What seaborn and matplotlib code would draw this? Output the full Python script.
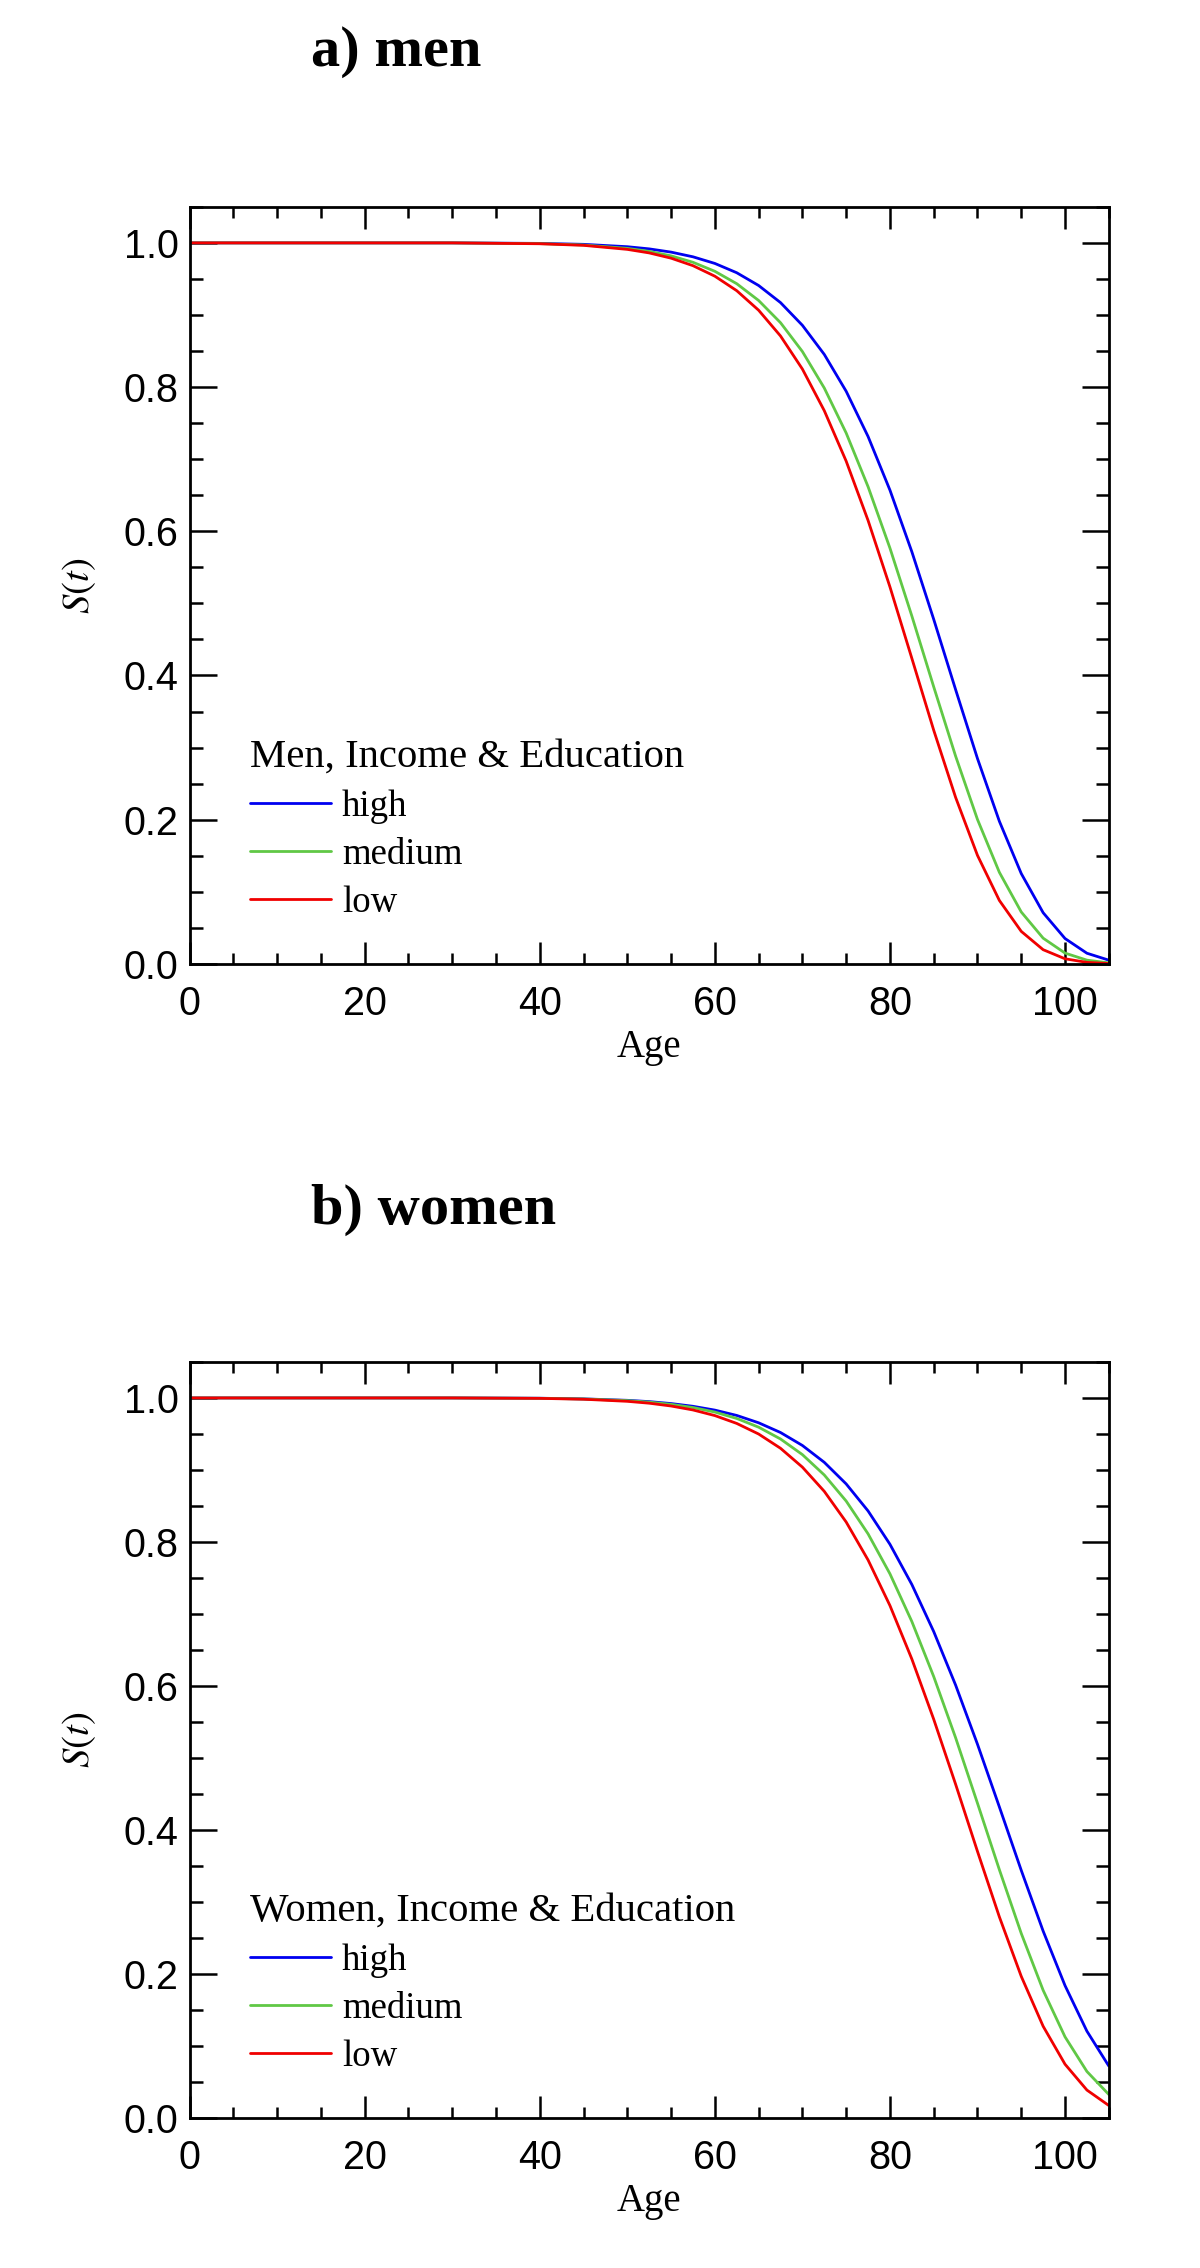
import numpy as np
import pandas as pd
import matplotlib
matplotlib.use("Agg")
import matplotlib.pyplot as plt
from matplotlib.ticker import MultipleLocator
import seaborn as sns

# survival curves (age in years, S(t))
ages = [0, 10, 20, 30, 40, 45, 50, 52.5, 55, 57.5, 60, 62.5, 65, 67.5, 70, 72.5, 75,
        77.5, 80, 82.5, 85, 87.5, 90, 92.5, 95, 97.5, 100, 102.5, 105]

men_high = [1.0, 1.0, 1.0, 1.0, 0.9993, 0.998, 0.9947, 0.9917, 0.9872, 0.9807, 0.9715,
            0.9586, 0.9409, 0.9172, 0.8857, 0.8453, 0.7942, 0.7315, 0.6571, 0.5717,
            0.4779, 0.3805, 0.2848, 0.1978, 0.1253, 0.0710, 0.0352, 0.0148, 0.0052]
men_medium = [1.0, 1.0, 1.0, 1.0, 0.9990, 0.9971, 0.9924, 0.9882, 0.9820, 0.9731, 0.9606,
              0.9434, 0.9201, 0.8893, 0.8493, 0.7987, 0.7363, 0.6619, 0.5767, 0.4826,
              0.3843, 0.2882, 0.2003, 0.1270, 0.0720, 0.0357, 0.0150, 0.0052, 0.0014]
men_low = [1.0, 1.0, 1.0, 1.0, 0.9988, 0.9966, 0.9910, 0.9861, 0.9788, 0.9684, 0.9538,
           0.9337, 0.9066, 0.8709, 0.8250, 0.7673, 0.6973, 0.6151, 0.5229, 0.4239,
           0.3241, 0.2310, 0.1505, 0.0880, 0.0451, 0.0197, 0.0071, 0.0021, 0.0005]

women_high = [1.0, 1.0, 1.0, 1.0, 0.9996, 0.9987, 0.9967, 0.9949, 0.9922, 0.9884, 0.9831,
              0.9757, 0.9655, 0.9520, 0.9340, 0.9106, 0.8806, 0.8431, 0.7968, 0.7410,
              0.6756, 0.6013, 0.5191, 0.4321, 0.3440, 0.2597, 0.1840, 0.1207, 0.0723]
women_medium = [1.0, 1.0, 1.0, 1.0, 0.9995, 0.9986, 0.9963, 0.9942, 0.9911, 0.9867, 0.9804,
                0.9715, 0.9594, 0.9430, 0.9213, 0.8930, 0.8568, 0.8113, 0.7558, 0.6896,
                0.6131, 0.5282, 0.4372, 0.3449, 0.2564, 0.1775, 0.1128, 0.0647, 0.0328]
women_low = [1.0, 1.0, 1.0, 1.0, 0.9994, 0.9982, 0.9953, 0.9927, 0.9888, 0.9833, 0.9755,
             0.9646, 0.9499, 0.9301, 0.9039, 0.8703, 0.8277, 0.7750, 0.7117, 0.6375,
             0.5538, 0.4636, 0.3703, 0.2794, 0.1968, 0.1275, 0.0748, 0.0389, 0.0175]

groups = ["high", "medium", "low"]
colors = {"high": "#0000f0", "medium": "#60c845", "low": "#f00000"}


def makeFrame(high, medium, low):
    rows = []
    for name, vals in zip(groups, [high, medium, low]):
        for a, s in zip(ages, vals):
            rows.append({"Age": a, "S": s, "group": name})
    return pd.DataFrame(rows)


def drawPanel(ax, df, legendTitle):
    sns.lineplot(data=df, x="Age", y="S", hue="group", hue_order=groups,
                 palette=colors, linewidth=2.0, errorbar=None, ax=ax)
    ax.set_xlim(0, 105)
    ax.set_ylim(0, 1.05)
    ax.xaxis.set_major_locator(MultipleLocator(20))
    ax.xaxis.set_minor_locator(MultipleLocator(5))
    ax.yaxis.set_major_locator(MultipleLocator(0.2))
    ax.yaxis.set_minor_locator(MultipleLocator(0.05))
    ax.tick_params(which="both", direction="in", top=True, right=True,
                   width=1.8, color="black", labelcolor="black")
    ax.tick_params(axis="x", which="major", length=16, pad=15)
    ax.tick_params(axis="x", which="minor", length=8)
    ax.tick_params(axis="y", which="major", length=19.5, pad=8)
    ax.tick_params(axis="y", which="minor", length=9.7)
    ax.tick_params(labelsize=28.5, labelfontfamily="Liberation Sans")
    for sp in ax.spines.values():
        sp.set_linewidth(2.0)
        sp.set_color("black")
    ax.set_xlabel("Age", fontsize=28, color="black")
    ax.set_ylabel("$S(t)$", fontsize=28, color="black")
    ax.xaxis.set_label_coords(0.5, -0.086)
    ax.yaxis.set_label_coords(-0.10, 0.5)
    sns.move_legend(ax, "lower left", bbox_to_anchor=(0.0657, 0.058),
                    title=legendTitle, title_fontsize=29.3, fontsize=26.5,
                    frameon=False, alignment="left", borderpad=0, borderaxespad=0,
                    handlelength=2.2, handletextpad=0.3, labelspacing=0.37,
                    labelcolor="black")
    ax.get_legend().get_title().set_color("black")


sns.set_style("ticks")
plt.rcParams["font.family"] = ["Liberation Serif", "DejaVu Serif"]
plt.rcParams["mathtext.fontset"] = "stix"
plt.rcParams["text.color"] = "black"

fig = plt.figure(figsize=(12, 22.68), dpi=100)
ax1 = fig.add_axes([0.158, 0.575, 0.766, 0.3338])
ax2 = fig.add_axes([0.158, 0.0661, 0.766, 0.3334])

drawPanel(ax1, makeFrame(men_high, men_medium, men_low), "Men, Income & Education")
drawPanel(ax2, makeFrame(women_high, women_medium, women_low), "Women, Income & Education")

fig.text(0.259, 0.971, "a) men", fontsize=42, fontweight="bold", ha="left",
         va="baseline", color="black")
fig.text(0.259, 0.4603, "b) women", fontsize=42, fontweight="bold", ha="left",
         va="baseline", color="black")

fig.savefig("out.png", dpi=100, facecolor="white")
